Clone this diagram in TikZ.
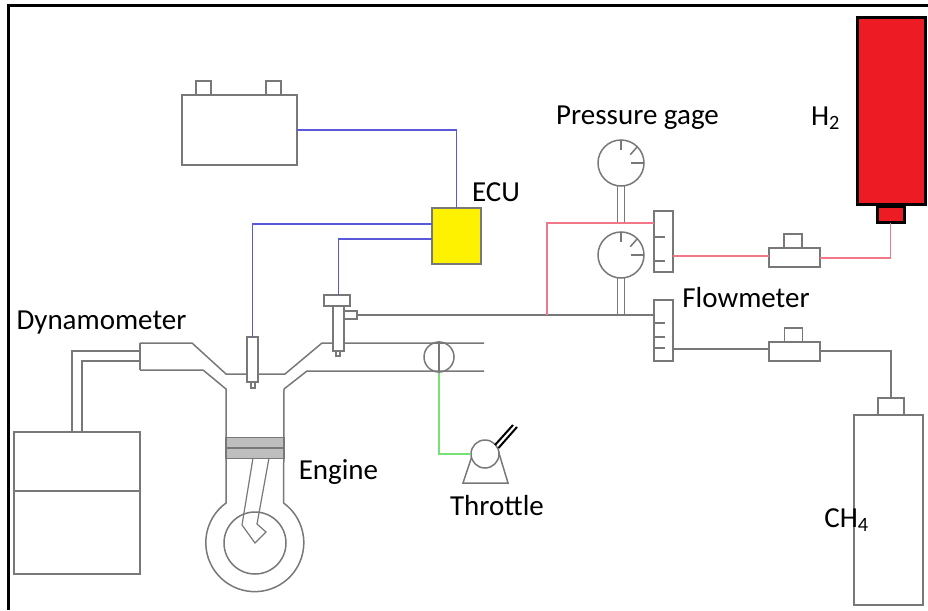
\documentclass[tikz,border=0pt]{standalone}
\usepackage{fontspec}
\setmainfont{Carlito}
\definecolor{linegray}{HTML}{787878}
\definecolor{wireblue}{HTML}{5858D8}
\definecolor{wirered}{HTML}{F07888}
\definecolor{wiregreen}{HTML}{78E078}
\definecolor{tankred}{HTML}{ED1C24}
\definecolor{ecuyellow}{HTML}{FFF200}
\definecolor{pistongray}{HTML}{BEBEBE}

\begin{document}
\begin{tikzpicture}[x=1pt, y=-1pt, line width=1.5pt, draw=linegray]
		\tikzstyle{part}=[rectangle, draw=linegray, fill=white, inner sep=0pt, outer sep=0pt]
		\tikzstyle{gauge}=[circle, draw=linegray, fill=white, inner sep=0pt, outer sep=0pt, minimum size=46pt]
		\tikzstyle{label}=[inner sep=0pt, font=\fontsize{29}{33}\selectfont, text=black]
		\tikzstyle{bluewire}=[draw=wireblue]
		\tikzstyle{redwire}=[draw=wirered]
		\tikzstyle{greenwire}=[draw=wiregreen]
		
		\useasboundingbox (0,0) rectangle (928,610);
		\draw[black, line width=3pt] (8,610) -- (8,6) -- (928,6);
		
		% intake, cylinder and crank case
		\draw (140,343) -- (192,343) -- (226,374) -- (285,374) -- (322,343) -- (484,343);
		\draw (140,370) -- (203,370) -- (226,389) -- (226,503) arc[start angle=126, end angle=414, radius=49pt] -- (284,389) -- (307,371) -- (484,371);
		\draw (140,343) -- (140,370);
		\node[circle, draw=linegray, minimum size=62pt, inner sep=0pt] (crank) at (255,543) {};
		\node[part, fill=pistongray, minimum width=58pt, minimum height=21pt] (piston) at (255,448) {};
		\draw (piston.west) -- (piston.east);
		\draw[line width=1.2pt] (253,458) -- (242,525) -- (255,543) -- (266,532) -- (257,524) -- (269,458);
		
		% dynamometer
		\node[part, minimum width=126pt, minimum height=142pt] (dyno) at (77,503) {};
		\draw (dyno.west |- 0,491) -- (dyno.east |- 0,491);
		\draw (140,351) -- (72,351) -- (72,432);
		\draw (140,361) -- (82,361) -- (82,432);
		
		% battery and ECU
		\node[part, minimum width=115pt, minimum height=70pt] (battery) at (239.5,130) {};
		\node[part, minimum width=15pt, minimum height=14pt] (termA) at (203.5,88) {};
		\node[part, minimum width=15pt, minimum height=14pt] (termB) at (273.5,88) {};
		\node[part, fill=ecuyellow, minimum width=49pt, minimum height=56pt] (ecu) at (456.5,236) {};
		\coordinate (ecuA) at (432,224);
		\coordinate (ecuB) at (432,239);
		
		% injectors
		\node[part, minimum width=4pt, minimum height=6pt] (plugTip) at (253,385) {};
		\node[part, minimum width=11pt, minimum height=45pt] (plug) at (252.5,359.5) {};
		\node[part, minimum width=4pt, minimum height=5pt] (injTip) at (338,353.5) {};
		\node[part, minimum width=13pt, minimum height=8pt] (injPort) at (350.5,315) {};
		\node[part, minimum width=11pt, minimum height=45pt] (inj) at (338.5,328.5) {};
		\node[part, minimum width=26pt, minimum height=11pt] (injCap) at (337,300.5) {};
		
		% throttle
		\node[circle, draw=linegray, minimum size=30pt, inner sep=0pt] (valve) at (439,357) {};
		\draw (valve.north) -- (valve.south);
		\draw (472,456) -- (463,483) -- (508,483) -- (498,450);
		\node[gauge, minimum size=28pt] (knob) at (485,454) {};
		\draw[black, line width=2pt] (495,445) -- (513,425);
		\draw[black, line width=2pt] (498.5,448) -- (517,427);
		
		% gauges and flowmeters
		\node[part, minimum width=19pt, minimum height=61pt] (fmA) at (663.5,241.5) {};
		\node[part, minimum width=19pt, minimum height=61pt] (fmB) at (663.5,330.5) {};
		\foreach \gy/\gname in {163/gaugeA, 255/gaugeB} {
			\node[gauge] (\gname) at (621,\gy) {};
			\draw ([xshift=-3.5pt]\gname.south) -- ++(0,37);
			\draw ([xshift=3.5pt]\gname.south) -- ++(0,37);
			\draw (\gname.north) -- ++(0,10);
			\draw (\gname.45) -- ++(-7,8);
			\draw (\gname.east) -- ++(-13,0);
		}
		\foreach \ty in {237,261,323,337,348} {
			\draw (654,\ty) -- ++(11,0);
		}
		
		% regulators and cylinders
		\node[part, minimum width=51pt, minimum height=19pt] (regA) at (794.5,257.5) {};
		\node[part, minimum width=18pt, minimum height=14pt] (regCapA) at (793,241) {};
		\node[part, minimum width=51pt, minimum height=19pt] (regB) at (794.5,351.5) {};
		\node[part, minimum width=18pt, minimum height=14pt] (regCapB) at (793.5,335) {};
		\node[part, draw=black, line width=3pt, fill=tankred, minimum width=68pt, minimum height=187pt] (tankA) at (891,111) {};
		\node[part, draw=black, line width=3pt, fill=tankred, minimum width=27pt, minimum height=16pt] (tankNeck) at (890.5,214.5) {};
		\node[part, minimum width=69pt, minimum height=190pt] (tankB) at (888.5,510) {};
		\node[part, minimum width=26pt, minimum height=17pt] (tankCap) at (891,406.5) {};
		
		% wires
		\draw[bluewire] (battery.east) -| (ecu.north);
		\draw[bluewire] (ecuA) -| (plug.north);
		\draw[bluewire] (ecuB) -| (inj.north |- injCap.north);
		\draw[greenwire] (valve.south) |- (knob.west);
		\draw[redwire] (fmA.east |- 0,256) -- (regA.west |- 0,256);
		\draw[redwire] (regA.east |- 0,258) -| (tankNeck.south);
		\draw (fmB.east |- 0,349) -- (regB.west |- 0,349);
		\draw (regB.east |- 0,351) -| (tankCap.north);
		\draw (injPort.east) -- (fmB.west |- injPort.east);
		\draw[redwire] (547,315) |- (fmA.west |- 0,223);
		
		% labels
		\node[label] (pressLabel) at (637.5,118) {Pressure gage};
		\node[label] (hLabel) at (825.5,118) {H\textsubscript{2}};
		\node[label] (ecuLabel) at (496,192) {ECU};
		\node[label] (flowLabel) at (746,298) {Flowmeter};
		\node[label] (dynoLabel) at (101.5,323) {Dynamometer};
		\node[label] (engineLabel) at (338.5,472) {Engine};
		\node[label] (throttleLabel) at (497,506) {Throttle};
		\node[label] (chLabel) at (846.5,520) {CH\textsubscript{4}};
	\end{tikzpicture}
\end{document}
